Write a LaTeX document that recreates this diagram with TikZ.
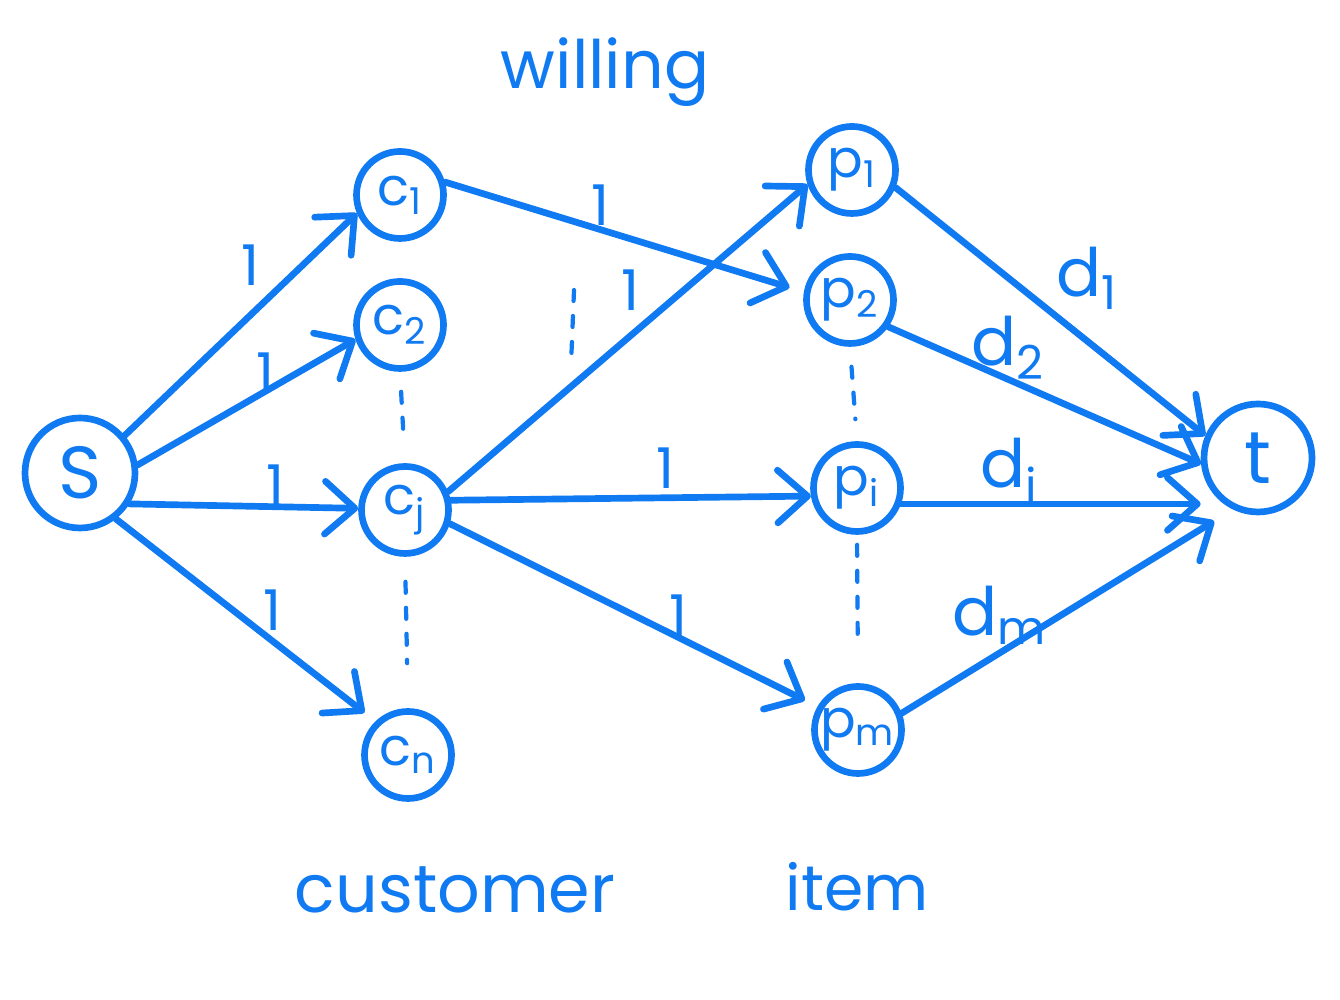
\documentclass[tikz,border=0pt]{standalone}
\usepackage{fontspec}
\setmainfont{Poppins}
\usetikzlibrary{arrows.meta}
\definecolor{pen}{HTML}{0F7AF2}
\begin{document}
\begin{tikzpicture}[
  line width=1.9pt, draw=pen, text=pen, line cap=round, line join=round,
  vtx/.style={circle, draw=pen, line width=1.9pt, inner sep=0pt, minimum size=0.87cm, font=\fontsize{15}{15}\selectfont},
  big/.style={vtx, minimum size=1.10cm, font=\fontsize{21}{21}\selectfont},
  arr/.style={draw=pen, -{Straight Barb[length=8.5pt,width=15pt,round]}},
  dots/.style={draw=pen, line width=1.2pt, dash pattern=on 0.11cm off 0.15cm},
  lab/.style={text=pen, font=\fontsize{16}{16}\selectfont, inner sep=0pt},
  dlab/.style={text=pen, font=\fontsize{19}{19}\selectfont, inner sep=0pt},
  title/.style={text=pen, font=\fontsize{19}{19}\selectfont, inner sep=0pt}
]
\useasboundingbox (0,0) rectangle (13.4,10);
\fill[white] (0,0) rectangle (13.4,10);

% nodes
\node[big] (S) at (0.80,5.27) {S};
\node[vtx] (c1) at (4.00,8.05) {c\textsubscript{1}};
\node[vtx] (c2) at (4.00,6.75) {c\textsubscript{2}};
\node[vtx] (cj) at (4.05,4.90) {c\textsubscript{j}};
\node[vtx] (cn) at (4.08,2.45) {c\textsubscript{n}};
\node[vtx] (p1) at (8.52,8.30) {p\textsubscript{1}};
\node[vtx] (p2) at (8.50,7.00) {p\textsubscript{2}};
\node[vtx] (pi) at (8.57,5.12) {p\textsubscript{i}};
\node[vtx] (pm) at (8.58,2.70) {p\textsubscript{m}};
\node[big, minimum size=1.08cm] (t) at (12.58,5.42) {t};

% source edges
\draw[arr] (S.40) -- (c1.203);
\draw[arr] (S.8) -- (c2.198);
\draw[arr] (S.-32) -- (cj.178);
\draw[arr, shorten >=0.14cm] (S.-52) -- (cn.134);

% middle edges
\draw[arr, shorten >=0.15cm] (c1.16) -- (p2.170);
\draw[arr] (cj.23) -- (p1.198);
\draw[arr] (cj.12) -- (pi.190);
\draw[arr, shorten >=0.14cm] (cj.-17) -- (pm.150);

% sink edges
\draw[arr] (p1.-22) -- (t.157);
\draw[arr] (p2.-35) -- (t.186);
\draw[arr] (pi.-20) -- (pi.-20 -| t.west);
\draw[arr, shorten >=0.22cm] (pm.21) -- (t.244);

% dotted continuations
\draw[dots, shorten <=0.2cm, shorten >=0.25cm] (c2.south) -- (cj.north);
\draw[dots, shorten <=0.25cm, shorten >=0.45cm] (cj.south) -- (cn.north);
\draw[dots, shorten <=0.2cm, shorten >=0.22cm] (p2.south) -- (pi.north);
\draw[dots, shorten <=0.1cm, shorten >=0.45cm] (pi.south) -- (pm.north);
\coordinate (m1) at (5.74,7.10);
\coordinate (m2) at (5.71,6.35);
\draw[dots] (m1) -- (m2);

% edge labels
\node[lab] (l1) at (2.50,7.35) {1};
\node[lab] (l2) at (2.65,6.27) {1};
\node[lab] (l3) at (2.75,5.15) {1};
\node[lab] (l4) at (2.72,3.90) {1};
\node[lab] (l5) at (6.00,7.95) {1};
\node[lab] (l6) at (6.30,7.10) {1};
\node[lab] (l7) at (6.65,5.32) {1};
\node[lab] (l8) at (6.78,3.85) {1};
\node[dlab] (d1) at (10.87,7.22) {d\textsubscript{1}};
\node[dlab] (d2) at (10.08,6.52) {d\textsubscript{2}};
\node[dlab] (di) at (10.10,5.30) {d\textsubscript{i}};
\node[dlab] (dm) at (10.00,3.85) {d\textsubscript{m}};

% titles
\node[title] (willing) at (6.05,9.28) {willing};
\node[title] (customer) at (4.55,1.10) {customer};
\node[title, font=\fontsize{18}{18}\selectfont] (item) at (8.57,1.13) {item};
\end{tikzpicture}
\end{document}
